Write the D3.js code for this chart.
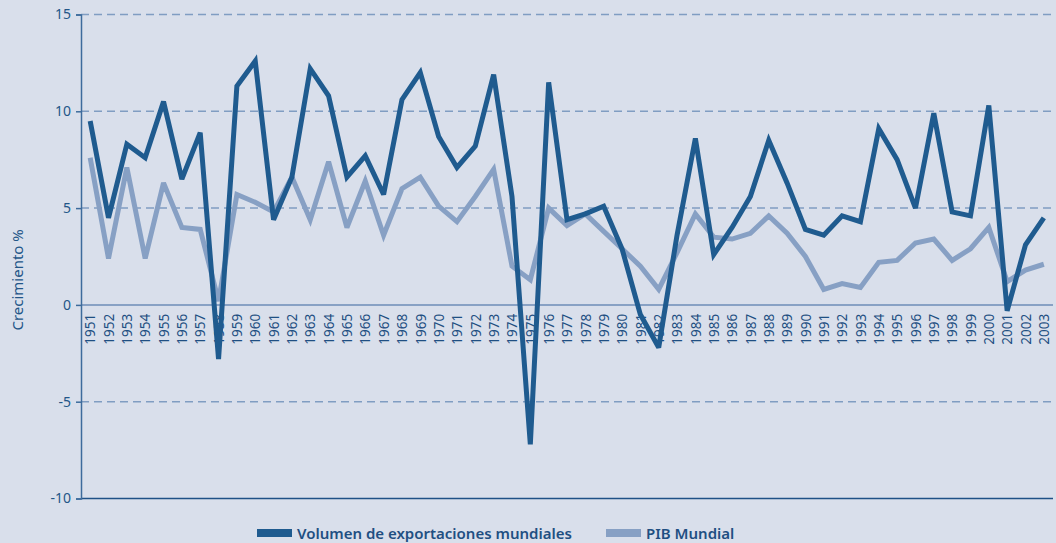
<!DOCTYPE html>
<html>
<head>
<meta charset="utf-8">
<script src="https://cdn.jsdelivr.net/npm/d3@7"></script>
<style>
  html, body { margin: 0; padding: 0; background: #d9dfeb; }
  svg { display: block; }
  text { font-family: "Noto Sans", "Open Sans", sans-serif; }
</style>
</head>
<body>
<svg id="chart" width="1056" height="543"></svg>
<script>
const years = d3.range(1951, 2004).map(String);
const exportaciones = [
  9.5, 4.5, 8.3, 7.6, 10.5, 6.5, 8.9, -2.8, 11.3, 12.6,
  4.4, 6.6, 12.2, 10.8, 6.6, 7.7, 5.7, 10.6, 12.0, 8.7,
  7.1, 8.2, 11.9, 5.6, -7.2, 11.5, 4.4, 4.7, 5.1, 2.9,
  -0.5, -2.2, 3.6, 8.6, 2.6, 4.0, 5.6, 8.5, 6.3, 3.9,
  3.6, 4.6, 4.3, 9.1, 7.5, 5.0, 9.9, 4.8, 4.6, 10.3,
  -0.3, 3.1, 4.5
];
const pib = [
  7.6, 2.4, 7.1, 2.4, 6.3, 4.0, 3.9, 0.2, 5.7, 5.3,
  4.8, 6.6, 4.4, 7.4, 4.0, 6.4, 3.6, 6.0, 6.6, 5.1,
  4.3, 5.6, 7.0, 2.0, 1.3, 5.0, 4.1, 4.7, 3.8, 2.9,
  2.0, 0.8, 2.7, 4.7, 3.5, 3.4, 3.7, 4.6, 3.7, 2.5,
  0.8, 1.1, 0.9, 2.2, 2.3, 3.2, 3.4, 2.3, 2.9, 4.0,
  1.2, 1.8, 2.1
];
const yTicks = [-10, -5, 0, 5, 10, 15];
const seriesNames = ["Volumen de exportaciones mundiales", "PIB Mundial"];

const colDark = "#1f5b8f";
const colLight = "#87a0c4";
const textCol = "#235688";

const svg = d3.select("#chart");
const mLeft = 81, mRight = 1053, mTop = 14.5, mBottom = 498.5;

const x = d3.scalePoint().domain(years).range([mLeft, mRight]).padding(0.5);
const y = d3.scaleLinear().domain([-10, 15]).range([mBottom, mTop]);

// Dashed grid
svg.append("g").selectAll("line")
  .data(yTicks.filter(t => t !== 0 && t !== -10))
  .join("line")
  .attr("x1", mLeft).attr("x2", mRight)
  .attr("y1", d => y(d)).attr("y2", d => y(d))
  .attr("stroke", "#809dc2").attr("stroke-width", 1.5)
  .attr("stroke-dasharray", "8,5");

// zero line
svg.append("line")
  .attr("x1", mLeft).attr("x2", mRight)
  .attr("y1", y(0)).attr("y2", y(0))
  .attr("stroke", "#6d8db7").attr("stroke-width", 1.5);

// bottom line
svg.append("line")
  .attr("x1", mLeft).attr("x2", mRight)
  .attr("y1", y(-10)).attr("y2", y(-10))
  .attr("stroke", "#1f5186").attr("stroke-width", 1.5);

// Y axis
const yAxis = d3.axisLeft(y).tickValues(yTicks).tickSize(5).tickPadding(5).tickFormat(d => String(d));
const gy = svg.append("g").attr("transform", `translate(${mLeft},0)`).call(yAxis);
gy.select(".domain").attr("stroke", "#3d6b9c").attr("stroke-width", 1.5);
gy.selectAll(".tick line").attr("stroke", "#3d6b9c").attr("stroke-width", 1.5);
gy.selectAll(".tick text").attr("fill", textCol).attr("font-size", 14)
  .attr("font-family", "'Noto Sans', sans-serif");

// Y label
svg.append("text")
  .attr("transform", `translate(23,${(y(5) + y(-5)) / 2 - 25}) rotate(-90)`)
  .attr("text-anchor", "middle")
  .attr("fill", textCol).attr("font-size", 15)
  .text("Crecimiento %");

// X labels (rotated)
const xAxis = d3.axisBottom(x).tickSize(0).tickPadding(0);
const gx = svg.append("g").attr("transform", `translate(0,${y(0)})`).call(xAxis);
gx.select(".domain").remove();
gx.selectAll(".tick text")
  .attr("transform", "rotate(-90)")
  .attr("x", -9).attr("y", 0).attr("dy", "0.35em")
  .attr("text-anchor", "end")
  .attr("fill", "#1f4f82").attr("font-size", 13.5)
  .attr("font-family", "'Noto Sans', sans-serif");

// Lines
const line = d3.line().x((d, i) => x(years[i])).y(d => y(d));
svg.append("path").datum(pib)
  .attr("d", line).attr("fill", "none")
  .attr("stroke", colLight).attr("stroke-width", 5)
  .attr("stroke-linejoin", "miter").attr("stroke-miterlimit", 3);
svg.append("path").datum(exportaciones)
  .attr("d", line).attr("fill", "none")
  .attr("stroke", colDark).attr("stroke-width", 5)
  .attr("stroke-linejoin", "miter").attr("stroke-miterlimit", 3);

// Legend
const legend = svg.append("g");
const legItems = [
  { name: seriesNames[0], color: colDark, x: 257 },
  { name: seriesNames[1], color: colLight, x: 606 }
];
legItems.forEach(it => {
  legend.append("rect").attr("x", it.x).attr("y", 529).attr("width", 35).attr("height", 8)
    .attr("fill", it.color);
  legend.append("text").attr("x", it.x + 40).attr("y", 539)
    .attr("fill", "#1f4f82").attr("font-size", 15).attr("font-weight", 600)
    .text(it.name);
});
</script>
</body>
</html>
